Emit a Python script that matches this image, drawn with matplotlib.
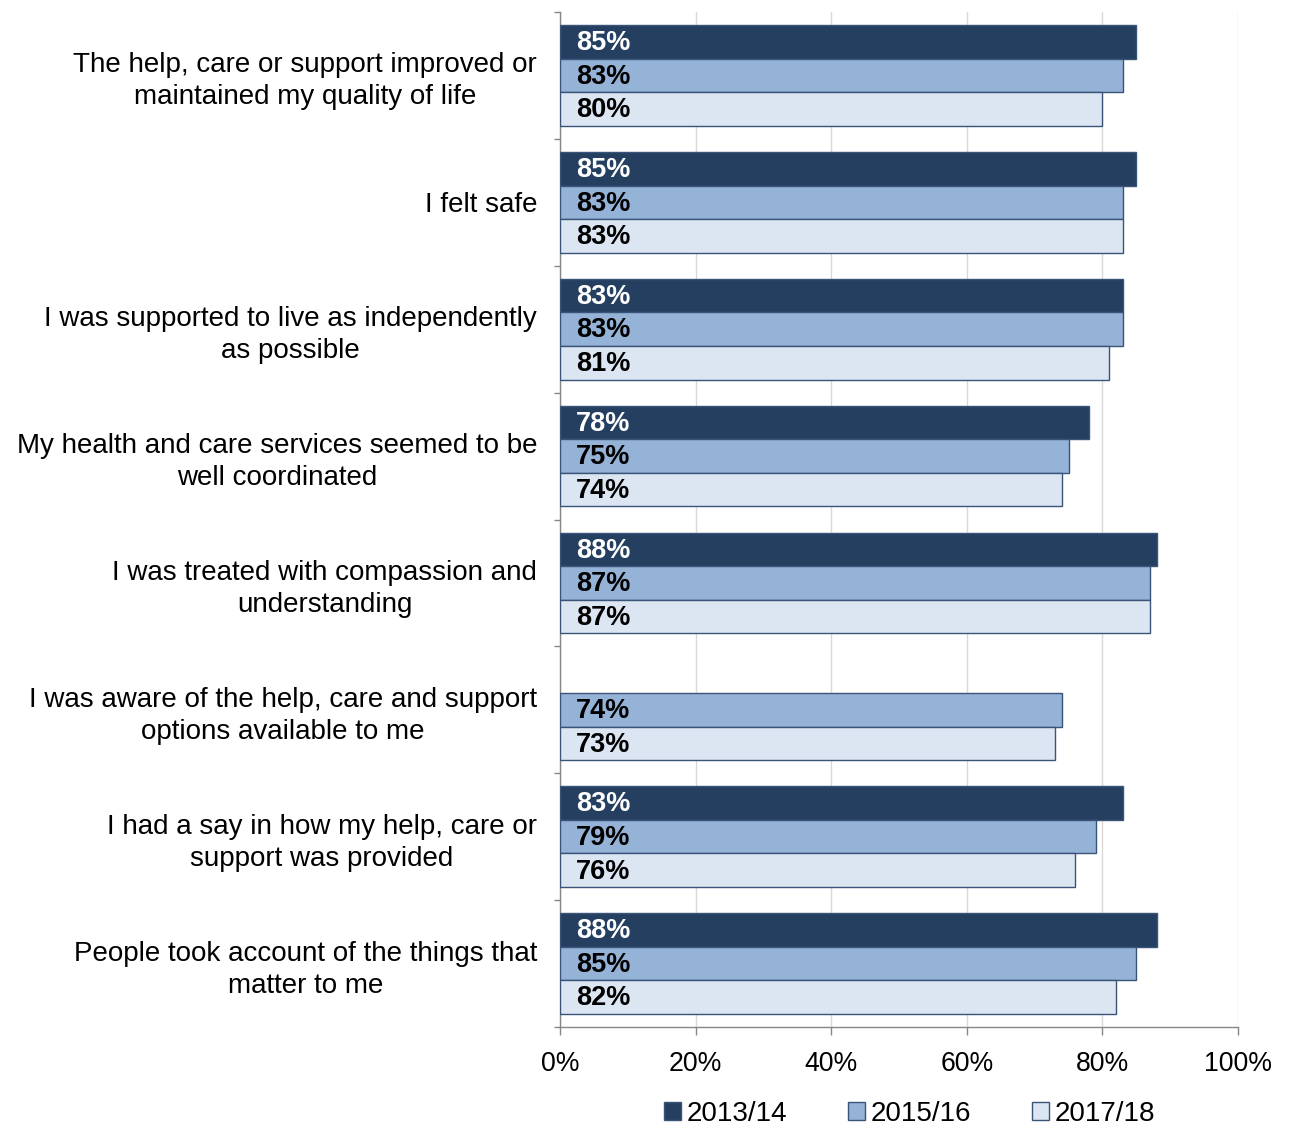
import numpy as np
import matplotlib
matplotlib.use('Agg')
from matplotlib import pyplot as plt
from matplotlib.patches import Patch

plt.rcParams['font.family'] = ['Liberation Sans', 'DejaVu Sans']

categories = ['The help, care or support improved or\nmaintained my quality of life',
              'I felt safe',
              'I was supported to live as independently\nas possible',
              'My health and care services seemed to be\nwell coordinated',
              'I was treated with compassion and\nunderstanding',
              'I was aware of the help, care and support\noptions available to me',
              'I had a say in how my help, care or\nsupport was provided',
              'People took account of the things that\nmatter to me']
series = ['2013/14', '2015/16', '2017/18']
v2013 = [85, 85, 83, 78, 88, np.nan, 83, 88]
v2015 = [83, 83, 83, 75, 87, 74, 79, 85]
v2017 = [80, 83, 81, 74, 87, 73, 76, 82]

colors = ['#243F60', '#95B3D7', '#DCE6F2']
txt_colors = ['white', 'black', 'black']
edge = '#3A5479'

fig = plt.figure(figsize=(12.9, 11.28), dpi=100)
ax = fig.add_axes([560/1290, 1-1027/1128, 678/1290, 1015/1128])

index = np.arange(len(categories))
bar_h = 0.265
for i, vals in enumerate([v2013, v2015, v2017]):
    pos = index + (i-1)*bar_h
    ax.barh(pos, vals, bar_h, color=colors[i], edgecolor=edge, linewidth=1.0, zorder=3)
    for p, v in zip(pos, vals):
        if np.isnan(v):
            continue
        ax.text(2.4, p + 0.01, '%d%%' % v, ha='left', va='center', fontsize=19.5,
                fontweight='bold', color=txt_colors[i], zorder=4)

ax.set_xlim(0, 100)
ax.set_ylim(len(categories)-0.5, -0.5)
ax.set_xticks(np.arange(0, 101, 20))
ax.set_xticklabels(['%d%%' % t for t in range(0, 101, 20)], fontsize=19.2)
ax.set_yticks(index)
ax.set_yticklabels(categories, fontsize=20)
for lbl in ax.get_yticklabels():
    lbl.set_multialignment('center')
    lbl.set_linespacing(1.3)
ax.set_yticks(np.arange(-0.5, len(categories)), minor=True)
ax.tick_params(axis='y', which='major', length=0, pad=16.5)
ax.tick_params(axis='y', which='minor', length=4.5, color='#868686', width=1)
ax.tick_params(axis='x', length=6, color='#868686', width=1, pad=11)

ax.grid(axis='x', color='#D9D9D9', linewidth=1, zorder=0)
ax.set_axisbelow(True)
for s in ['top', 'right']:
    ax.spines[s].set_visible(False)
for s in ['left', 'bottom']:
    ax.spines[s].set_color('#868686')
    ax.spines[s].set_linewidth(1)

handles = [Patch(facecolor=colors[i], edgecolor=edge, linewidth=1, label=series[i]) for i in range(3)]
fig.legend(handles=handles, loc='center', bbox_to_anchor=(0.705, 0.0125), ncol=3,
           frameon=False, fontsize=20, handlelength=0.6, handleheight=0.6,
           handletextpad=0.2, columnspacing=2.2, borderpad=0.1)

fig.savefig('out.png', dpi=100)
